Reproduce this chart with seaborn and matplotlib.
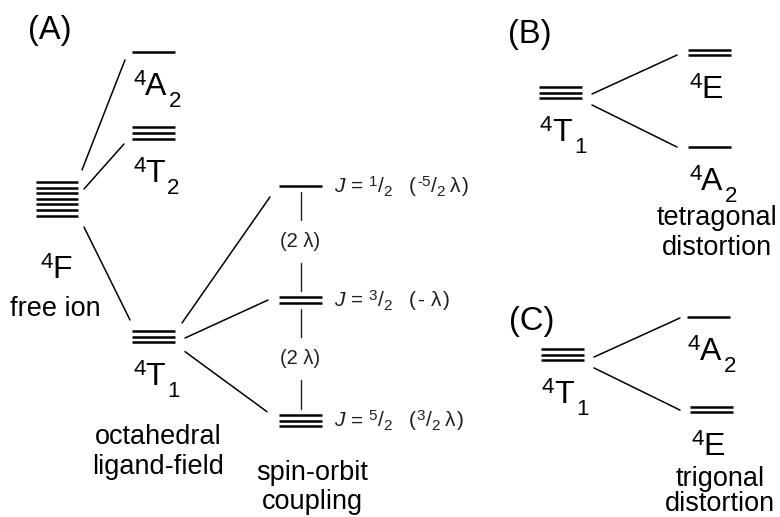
import matplotlib
matplotlib.use("Agg")
import matplotlib.pyplot as plt
import numpy as np
import pandas as pd
import seaborn as sns

sns.set_theme(style="white")
plt.rcParams["font.family"] = ["Liberation Sans", "DejaVu Sans"]

# ------------------------------------------------------------------
# Energy levels (vertical position in the drawing, smaller = higher energy)
# ------------------------------------------------------------------
level_ids = ["A_4F", "A_4A2", "A_4T2", "A_4T1", "A_J1", "A_J3", "A_J5",
             "B_4T1", "B_4E", "B_4A2", "C_4T1", "C_4A2", "C_4E"]
level_pos = [198.7, 52.0, 133.0, 336.5, 186.0, 300.0, 420.5,
             92.8, 52.5, 147.0, 354.5, 317.0, 409.5]
level_lines = [7, 1, 3, 3, 1, 2, 3, 3, 2, 1, 3, 1, 2]

# Term symbols: multiplicity, orbital letter, subscript
term_ids = ["A_4F", "A_4A2", "A_4T2", "A_4T1", "B_4T1", "B_4E", "B_4A2",
            "C_4T1", "C_4A2", "C_4E"]
term_mult = ["4", "4", "4", "4", "4", "4", "4", "4", "4", "4"]
term_letter = ["F", "A", "T", "T", "T", "E", "A", "T", "A", "E"]
term_sub = ["", "2", "2", "1", "1", "", "2", "1", "2", ""]

# Spin-orbit components of 4T1: J = n/2 with energy shift (sign, numerator/2) λ
j_ids = ["A_J1", "A_J3", "A_J5"]
j_num = ["1", "3", "5"]
shift_sign = ["-", "-", ""]
shift_num = ["5", "", "3"]
splitting = ["(2 λ)", "(2 λ)"]

# Correlation lines between levels
links = [("A_4F", "A_4A2"), ("A_4F", "A_4T2"), ("A_4F", "A_4T1"),
         ("A_4T1", "A_J1"), ("A_4T1", "A_J3"), ("A_4T1", "A_J5"),
         ("B_4T1", "B_4E"), ("B_4T1", "B_4A2"),
         ("C_4T1", "C_4A2"), ("C_4T1", "C_4E")]

captions = [["free ion"], ["octahedral", "ligand-field"], ["spin-orbit", "coupling"],
            ["tetragonal", "distortion"], ["trigonal", "distortion"]]
panel_tags = ["(A)", "(B)", "(C)"]

# ------------------------------------------------------------------
# Layout
# ------------------------------------------------------------------
W, H = 780, 517
SPACING = 5.6
level_left = {"A_4F": 36, "A_4A2": 132, "A_4T2": 132, "A_4T1": 132,
              "A_J1": 279, "A_J3": 279, "A_J5": 279,
              "B_4T1": 539, "B_4E": 688, "B_4A2": 688,
              "C_4T1": 541, "C_4A2": 687, "C_4E": 690}
level_width = {"A_4F": 42}
LEVEL_W = 43

link_src_dy = [-18.5, -3.0, 16.2, -3.5, 6.1, 7.8, 5.8, 7.2, 7.1, 8.5]
link_tgt_dy = [-10.0, 2.0, -12.5, -2.0, -5.0, 0.0, -2.5, 5.5, -2.2, 5.5]
link_gap_src = [4, 6, 6, 7, 10, 10, 10, 10, 10, 10]
link_gap_tgt = [7, 8, 2, 9, 11, 12, 11, 11, 7, 10]

caption_x = [55, 158, 312, 717, 720]
caption_y = [[316], [444, 474], [480, 509], [225, 255], [486, 511]]
tag_xy = [(49.5, 39), (530, 43), (532, 330)]

BIG, SUPSZ, CAP, TAG = 23, 16, 19.5, 23.5
SMALL, SMALLSUP, SPLIT = 15, 11, 14.5
GREY = "#1f1f1f"

pos = dict(zip(level_ids, level_pos))
nlines = dict(zip(level_ids, level_lines))


def x_left(i):
    return level_left[i]


def x_right(i):
    return level_left[i] + level_width.get(i, LEVEL_W)


def offsets(n):
    return (np.arange(n) - (n - 1) / 2) * SPACING


fig = plt.figure(figsize=(W / 100, H / 100), dpi=100)
ax = fig.add_axes([0, 0, 1, 1])

# --- level bars ---
rows = []
for lid in level_ids:
    for k, off in enumerate(offsets(nlines[lid])):
        seg = f"{lid}_{k}"
        rows.append((seg, x_left(lid), pos[lid] + off))
        rows.append((seg, x_right(lid), pos[lid] + off))
levels_df = pd.DataFrame(rows, columns=["seg", "x", "y"])
sns.lineplot(data=levels_df, x="x", y="y", units="seg", estimator=None, sort=False,
             color="black", linewidth=1.8, solid_capstyle="butt", legend=False, ax=ax)

# --- correlation lines ---
rows = []
for k, (s, t) in enumerate(links):
    x0, y0 = x_right(s), pos[s] + link_src_dy[k]
    x1, y1 = x_left(t), pos[t] + link_tgt_dy[k]
    xa, xb = x0 + link_gap_src[k], x1 - link_gap_tgt[k]
    ya = y0 + (y1 - y0) * (xa - x0) / (x1 - x0)
    yb = y0 + (y1 - y0) * (xb - x0) / (x1 - x0)
    rows.append((k, xa, ya))
    rows.append((k, xb, yb))
links_df = pd.DataFrame(rows, columns=["seg", "x", "y"])
sns.lineplot(data=links_df, x="x", y="y", units="seg", estimator=None, sort=False,
             color="black", linewidth=1.1, legend=False, ax=ax)

# --- vertical splitting markers between J levels ---
rows = []
mids = []
xc = (x_left("A_J1") + x_right("A_J1")) / 2
for k in range(len(j_ids) - 1):
    up, lo = j_ids[k], j_ids[k + 1]
    y_up = pos[up] + offsets(nlines[up])[-1]
    y_lo = pos[lo] + offsets(nlines[lo])[0]
    mid = (y_up + y_lo) / 2
    mids.append(mid)
    rows += [(2 * k, xc, y_up + 6), (2 * k, xc, mid - 22),
             (2 * k + 1, xc, mid + 21), (2 * k + 1, xc, y_lo - 6)]
split_df = pd.DataFrame(rows, columns=["seg", "x", "y"])
sns.lineplot(data=split_df, x="x", y="y", units="seg", estimator=None, sort=False,
             color=GREY, linewidth=1.0, legend=False, ax=ax)

ax.set_xlim(0, W)
ax.set_ylim(H, 0)
ax.axis("off")

renderer = fig.canvas.get_renderer()


def rich(x, y, pieces, color="black", align="left"):
    """Draw a run of text pieces: (text, size, baseline shift px, gap px, style)."""
    texts, cx = [], x
    for txt, size, dy, gap, style in pieces:
        t = ax.text(cx, y + dy, txt, fontsize=size, fontstyle=style, color=color,
                    ha="left", va="baseline")
        cx += t.get_window_extent(renderer).width + gap
        texts.append(t)
    if align == "center":
        shift = (cx - x) / 2
        for t in texts:
            t.set_x(t.get_position()[0] - shift)


# --- term symbols ---
for tid, m, L, sub in zip(term_ids, term_mult, term_letter, term_sub):
    pieces = [(m, SUPSZ, -10, 0, "normal"), (L, BIG, 0, 2, "normal")]
    if sub:
        pieces.append((sub, SUPSZ, 12, 0, "normal"))
    if tid == "A_4F":
        rich((x_left(tid) + x_right(tid)) / 2, 278, pieces, align="center")
    else:
        base = pos[tid] + offsets(nlines[tid])[-1] + 43
        rich(x_left(tid) + 1, base, pieces)

# --- J labels ---
for jid, n, sg, num in zip(j_ids, j_num, shift_sign, shift_num):
    pieces = [("J", SMALL, 0, 6, "italic"), ("=", SMALL, 0, 6, "normal"),
              (n, SMALLSUP, -6, 0.5, "normal"), ("/", SMALL, 0, 0, "normal"),
              ("2", SMALLSUP, 4, 17, "normal"), ("(", SMALL, 0, 1, "normal")]
    if num:
        pieces += [(sg + num, SMALLSUP, -6, 0.5, "normal"), ("/", SMALL, 0, 0, "normal"),
                   ("2", SMALLSUP, 4, 5, "normal")]
    else:
        pieces += [(sg, SMALL, 0, 7, "normal")]
    pieces += [("λ", SMALL, 0, 1.5, "normal"), (")", SMALL, 0, 0, "normal")]
    rich(x_right(jid) + 12, pos[jid] + 6, pieces, color=GREY)

# --- splitting values ---
for mid, lab in zip(mids, splitting):
    ax.text(xc, mid, lab, fontsize=SPLIT, color=GREY, ha="center", va="center")

# --- captions ---
for lines, cx, ys in zip(captions, caption_x, caption_y):
    for line, yy in zip(lines, ys):
        ax.text(cx, yy, line, fontsize=CAP, color="black", ha="center", va="baseline")

# --- panel tags ---
for tag, (tx, ty) in zip(panel_tags, tag_xy):
    ax.text(tx, ty, tag, fontsize=TAG, color="black", ha="center", va="baseline")

fig.savefig("out.png", dpi=100)
